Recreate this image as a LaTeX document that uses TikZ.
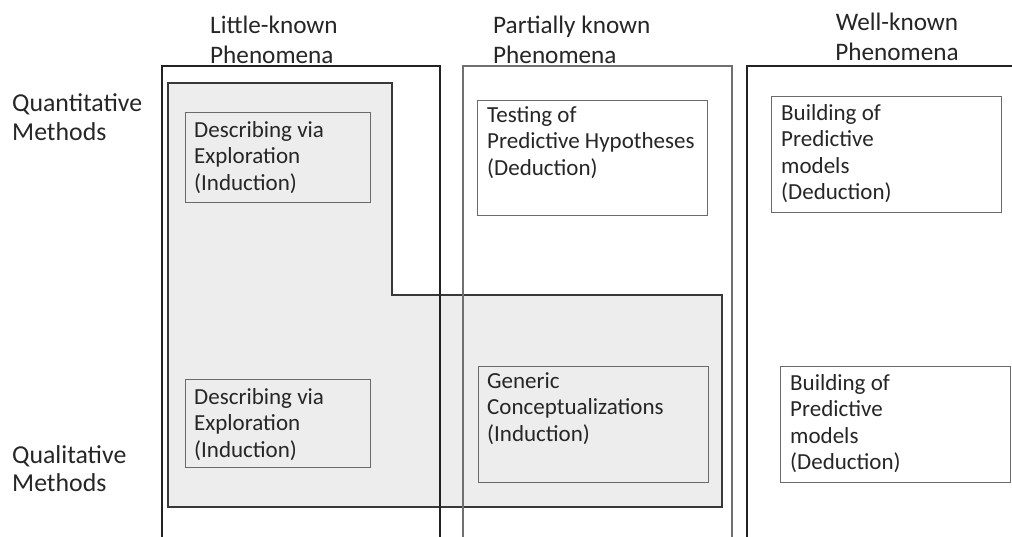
\documentclass[tikz,border=0pt]{standalone}
\usepackage{fontspec}
\setmainfont{Carlito}
\definecolor{ink}{HTML}{262626}
\definecolor{frame}{HTML}{222222}
\definecolor{midframe}{HTML}{707070}
\definecolor{cellline}{HTML}{6A6A6A}
\definecolor{shade}{HTML}{EDEDED}
\tikzset{
  colframe/.style={draw=frame, line width=2.5pt},
  colframelight/.style={draw=midframe, line width=1.6pt},
  region/.style={draw=frame!90, line width=1.6pt, fill=shade},
  cellbox/.style={draw=cellline, line width=1.1pt, rectangle, inner sep=0pt, anchor=north west},
  celltext/.style={anchor=north west, inner sep=0pt, align=left, text=ink,
    font=\fontsize{23}{26.5}\selectfont},
  headtext/.style={inner sep=0pt, text=ink, font=\fontsize{25.2}{30}\selectfont},
  sidetext/.style={anchor=north west, inner sep=0pt, align=left, text=ink,
    font=\fontsize{25.8}{28.4}\selectfont},
}
\begin{document}
\begin{tikzpicture}[x=1pt, y=-1pt]
  \useasboundingbox (0,0) rectangle (1012,536);
  \clip (0,0) rectangle (1012,536);
  \fill[white] (0,0) rectangle (1012,536);

  % shaded L-shaped region of inductive work
  \draw[region] (168,83) -- (392,83) -- (392,295) -- (722,295)
    -- (722,507) -- (168,507) -- cycle;

  % the three phenomenon columns (open towards the bottom)
  \draw[colframe] (162,570) -- (162,66) -- (440,66) -- (440,570);
  \draw[colframelight] (463,570) -- (463,66) -- (732,66) -- (732,570);
  \draw[colframe] (747,570) -- (747,66) -- (1040,66);

  % column headings
  \node[headtext, anchor=north west, align=left] (hlittle) at (210,12)
    {\strut Little-known\\Phenomena};
  \node[headtext, anchor=north west, align=left] (hpartial) at (493,12)
    {\strut Partially known\\Phenomena};
  \node[headtext, anchor=north, align=center] (hwell) at (897,9)
    {\strut Well-known\\Phenomena};

  % row labels
  \node[sidetext] (rquant) at (12,91.8) {\strut Quantitative\\Methods};
  \node[sidetext] (rqual) at (12,443.4) {\strut Qualitative\\Methods};

  % cells, quantitative row
  \node[cellbox, fill=shade, minimum width=185pt, minimum height=90pt] (q1) at (185,112) {};
  \node[cellbox, fill=white, minimum width=230pt, minimum height=115pt] (q2) at (477,100) {};
  \node[cellbox, fill=white, minimum width=230pt, minimum height=116pt] (q3) at (771,96) {};

  % cells, qualitative row
  \node[cellbox, fill=shade, minimum width=185pt, minimum height=88pt] (l1) at (185,379) {};
  \node[cellbox, fill=shade, minimum width=230pt, minimum height=116pt] (l2) at (478,366) {};
  \node[cellbox, fill=white, minimum width=230pt, minimum height=116pt] (l3) at (780,366) {};

  % cell texts
  \node[celltext] (q1t) at (194,118.5) {\strut Describing via\\Exploration\\(Induction)};
  \node[celltext] (q2t) at (487,103.5) {\strut Testing of\\Predictive Hypotheses\\(Deduction)};
  \node[celltext] (q3t) at (781,101.5) {\strut Building of\\Predictive\\models\\(Deduction)};
  \node[celltext] (l1t) at (194,385.5) {\strut Describing via\\Exploration\\(Induction)};
  \node[celltext] (l2t) at (487,369.5) {\strut Generic\\Conceptualizations\\(Induction)};
  \node[celltext] (l3t) at (790,371.5) {\strut Building of\\Predictive\\models\\(Deduction)};
\end{tikzpicture}
\end{document}
